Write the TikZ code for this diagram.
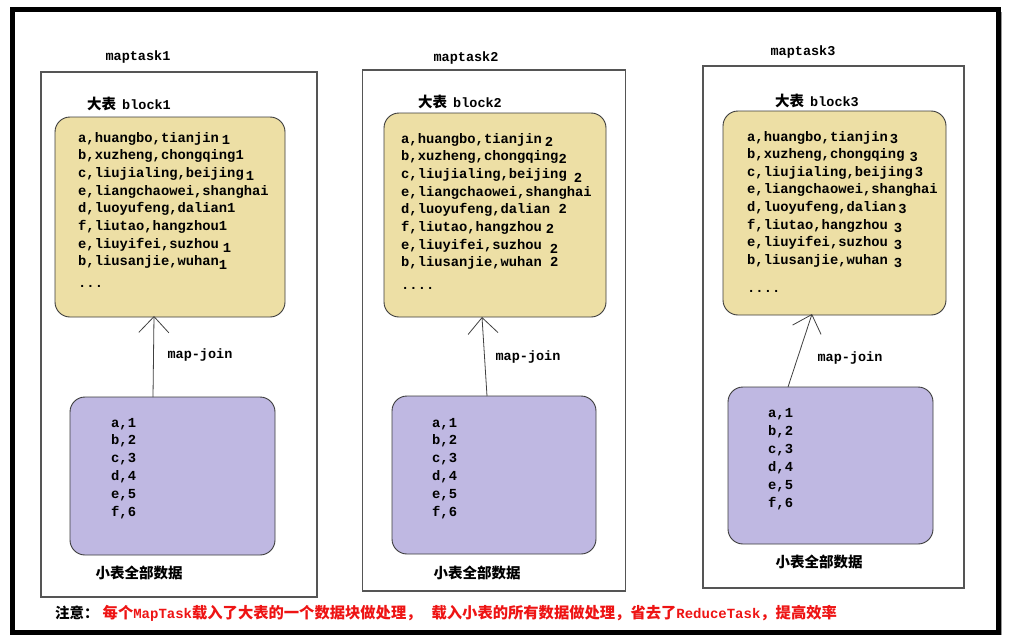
\documentclass[tikz,border=0pt]{standalone}
\usepackage{fontspec}
\setmainfont{Liberation Mono}
\newfontfamily\cjk{Noto Sans CJK SC}
\newfontfamily\monof{Liberation Mono}
\usetikzlibrary{arrows.meta}
\definecolor{bigfill}{RGB}{237,223,165}
\definecolor{smallfill}{RGB}{191,184,226}
\definecolor{boxline}{RGB}{60,60,60}
\definecolor{taskline}{RGB}{85,85,85}
\definecolor{notered}{RGB}{238,20,20}
\newcommand{\tailnum}[3]{\hspace{#1pt}\raisebox{-#2pt}{#3}}
\tikzset{
  taskbox/.style={draw=taskline, line width=1.1pt, inner sep=0pt, fill=white},
  bigbox/.style={draw=boxline, line width=0.9pt, fill=bigfill, rounded corners=15pt, inner sep=0pt},
  smallbox/.style={draw=boxline, line width=0.9pt, fill=smallfill, rounded corners=15pt, inner sep=0pt},
  rowtext/.style={anchor=base west, inner sep=0pt, font=\bfseries\fontsize{13.8}{16}\selectfont},
  titletext/.style={inner sep=0pt, font=\bfseries\fontsize{13.5}{16}\selectfont},
  cjklabel/.style={inner sep=0pt, font=\cjk\bfseries\fontsize{14.5}{16}\selectfont},
  joinarrow/.style={draw=black!75, line width=0.8pt, -{Straight Barb[length=16pt,width=30pt,line width=0.8pt]}}
}
\begin{document}
\begin{tikzpicture}[x=1pt,y=-1pt]
\useasboundingbox (0,0) rectangle (1011,642);
\fill[white] (0,0) rectangle (1011,642);
% outer frame
\draw[black!40, line width=1pt] (15,634.5) -- (1001,634.5) -- (1001,12);
\draw[black, line width=5pt] (12.5,9.5) rectangle (998.5,632);

% task boxes
\node[taskbox, minimum width=276pt, minimum height=525pt] (t1) at (179,334.5) {};
\node[taskbox, minimum width=263pt, minimum height=521pt] (t2) at (494,330.5) {};
\node[taskbox, minimum width=261pt, minimum height=522pt] (t3) at (833.5,327) {};

\node[titletext] (m1) at (138,57) {maptask1};
\node[titletext] (m2) at (466,58) {maptask2};
\node[titletext] (m3) at (803,52) {maptask3};

% big table boxes
\node[bigbox, minimum width=230pt, minimum height=200pt] (y1) at (170,217) {};
\node[bigbox, minimum width=222pt, minimum height=204pt] (y2) at (495,215) {};
\node[bigbox, minimum width=223pt, minimum height=204pt] (y3) at (834.5,213) {};

\node[anchor=base west, inner sep=0pt] (h1) at (87,109) {{\cjk\bfseries\fontsize{14.5}{16}\selectfont 大表} {\bfseries\fontsize{13.5}{16}\selectfont block1}};
\node[anchor=base west, inner sep=0pt] (h2) at (418,107) {{\cjk\bfseries\fontsize{14.5}{16}\selectfont 大表} {\bfseries\fontsize{13.5}{16}\selectfont block2}};
\node[anchor=base west, inner sep=0pt] (h3) at (775,106) {{\cjk\bfseries\fontsize{14.5}{16}\selectfont 大表} {\bfseries\fontsize{13.5}{16}\selectfont block3}};

% rows block1
\foreach \t [count=\i] in {
  {a,huangbo,tianjin\tailnum{3}{2}{1}},
  {b,xuzheng,chongqing1},
  {c,liujialing,beijing\tailnum{2}{3}{1}},
  {e,liangchaowei,shanghai},
  {d,luoyufeng,dalian1},
  {f,liutao,hangzhou1},
  {e,liuyifei,suzhou\tailnum{4}{4}{1}},
  {b,liusanjie,wuhan\tailnum{0}{4}{1}}}
  \node[rowtext] (r1-\i) at (78,{142+(\i-1)*17.7}) {\t};
\node[rowtext] (r1-dots) at (78,287) {...};

% rows block2
\foreach \t [count=\i] in {
  {a,huangbo,tianjin\tailnum{3}{3}{2}},
  {b,xuzheng,chongqing\tailnum{0}{3}{2}},
  {c,liujialing,beijing\tailnum{7}{4}{2}},
  {e,liangchaowei,shanghai},
  {d,luoyufeng,dalian 2},
  {f,liutao,hangzhou\tailnum{4}{2}{2}},
  {e,liuyifei,suzhou\tailnum{8}{4}{2}},
  {b,liusanjie,wuhan 2}}
  \node[rowtext] (r2-\i) at (401,{143+(\i-1)*17.7}) {\t};
\node[rowtext] (r2-dots) at (401,289) {....};

% rows block3
\foreach \t [count=\i] in {
  {a,huangbo,tianjin\tailnum{2}{2}{3}},
  {b,xuzheng,chongqing\tailnum{5}{3}{3}},
  {c,liujialing,beijing\tailnum{2}{0}{3}},
  {e,liangchaowei,shanghai},
  {d,luoyufeng,dalian\tailnum{2}{2}{3}},
  {f,liutao,hangzhou\tailnum{6}{3}{3}},
  {e,liuyifei,suzhou\tailnum{6}{3}{3}},
  {b,liusanjie,wuhan\tailnum{6}{3}{3}}}
  \node[rowtext] (r3-\i) at (747,{141+(\i-1)*17.6}) {\t};
\node[rowtext] (r3-dots) at (747,292) {....};

% small table boxes
\node[smallbox, minimum width=205pt, minimum height=158pt] (p1) at (172.5,476) {};
\node[smallbox, minimum width=204pt, minimum height=158pt] (p2) at (494,475) {};
\node[smallbox, minimum width=205pt, minimum height=157pt] (p3) at (830.5,465.5) {};

\foreach \t [count=\i] in {{a,1},{b,2},{c,3},{d,4},{e,5},{f,6}}{
  \node[rowtext] (s1-\i) at (111,{427+(\i-1)*17.8}) {\t};
  \node[rowtext] (s2-\i) at (432,{427+(\i-1)*17.8}) {\t};
  \node[rowtext] (s3-\i) at (768,{417+(\i-1)*18}) {\t};
}

\node[cjklabel] (c1) at (139,573) {小表全部数据};
\node[cjklabel] (c2) at (477,573) {小表全部数据};
\node[cjklabel] (c3) at (819,562) {小表全部数据};

% map-join arrows
\coordinate (a1s) at (153,397);
\coordinate (a1e) at (154,316);
\coordinate (a2s) at (487,396);
\coordinate (a2e) at (482,317);
\coordinate (a3s) at (788,387);
\coordinate (a3e) at (812,314);
\draw[joinarrow] (a1s) -- (a1e);
\draw[joinarrow] (a2s) -- (a2e);
\draw[joinarrow] (a3s) -- (a3e);
\node[titletext] (j1) at (200,355) {map-join};
\node[titletext] (j2) at (528,357) {map-join};
\node[titletext] (j3) at (850,358) {map-join};

% footer note
\node[anchor=west, inner sep=0pt] (note) at (55,613) {{\cjk\bfseries\fontsize{14.5}{16}\selectfont 注意：}\hspace{4pt}\textcolor{notered}{\cjk\bfseries\fontsize{15.3}{16}\selectfont 每个{\monof\fontsize{14}{16}\selectfont MapTask}载入了大表的一个数据块做处理，\hspace{10pt}载入小表的所有数据做处理，省去了{\monof\fontsize{14}{16}\selectfont ReduceTask}，提高效率}};
\end{tikzpicture}
\end{document}
